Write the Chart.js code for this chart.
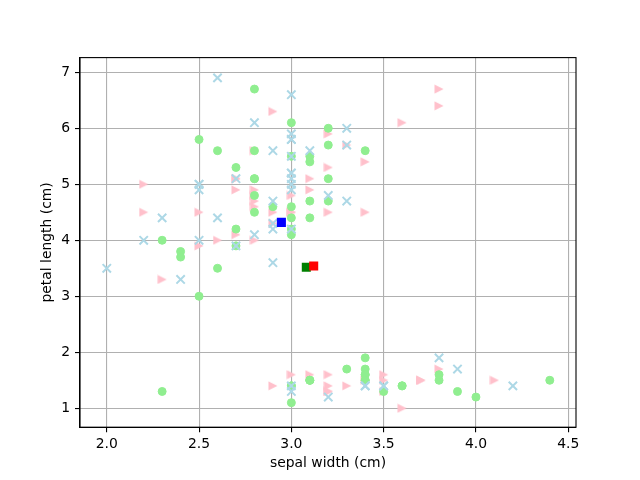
<!DOCTYPE html>
<html>
<head>
<meta charset="utf-8">
<title>Iris clusters — sepal width vs petal length</title>
<script src="https://cdn.jsdelivr.net/npm/chart.js@4.4.1/dist/chart.umd.min.js"></script>
<style>
  html, body { margin: 0; padding: 0; background: #fff; }
  canvas { display: block; }
</style>
</head>
<body>
<canvas id="chart" width="640" height="480"></canvas>
<script>
"use strict";

// ── Data (sepal width, petal length) per cluster ─────────────────────────
const blueWidth = [3.5, 3.9, 3.4, 3.0, 3.5, 3.4, 4.2, 3.2, 3.0, 3.8,
  3.3, 2.4, 2.0, 2.2, 2.9, 2.9, 3.2, 2.5, 2.9, 3.0, 2.7, 2.3, 2.5, 2.6, 3.0, 2.9, 2.8,
  3.3, 2.7, 3.0, 2.9, 3.0, 3.0, 2.5, 3.0, 2.6, 3.3, 3.0, 3.0, 2.8, 3.1, 3.0, 2.5, 3.0, 3.0];
const blueLength = [1.4, 1.7, 1.4, 1.4, 1.4, 1.4, 1.4, 1.2, 1.3, 1.9,
  4.7, 3.3, 3.5, 4.0, 4.7, 3.6, 4.8, 4.9, 4.3, 5.0, 3.9, 4.4, 4.0, 4.4, 4.2, 4.2, 4.1,
  6.0, 5.1, 5.9, 5.6, 5.8, 6.6, 5.0, 5.5, 6.9, 5.7, 4.9, 5.8, 6.1, 5.6, 5.2, 5.0, 5.2, 5.1];

const greenWidth = [3.0, 3.1, 3.6, 3.4, 3.1, 3.4, 3.0, 4.0, 4.4, 3.9, 3.8, 3.4, 3.3, 3.4, 3.4, 3.1, 3.6, 3.4, 3.5, 2.3, 3.0, 3.8,
  3.2, 2.3, 2.8, 2.9, 2.7, 3.0, 3.1, 3.0, 2.8, 2.6, 2.4, 2.4, 3.1, 3.0, 3.0, 2.7, 2.5,
  2.5, 3.2, 2.7, 3.0, 2.8, 3.2, 2.8, 3.2, 2.8, 2.8, 2.6, 3.0, 3.4, 3.1, 3.1];
const greenLength = [1.4, 1.5, 1.4, 1.5, 1.5, 1.6, 1.1, 1.2, 1.5, 1.3, 1.5, 1.7, 1.7, 1.9, 1.6, 1.5, 1.4, 1.5, 1.3, 1.3, 1.4, 1.6,
  4.7, 4.0, 4.5, 4.6, 3.9, 4.2, 4.4, 4.4, 4.8, 3.5, 3.8, 3.7, 4.7, 4.1, 4.6, 4.2, 3.0,
  5.8, 5.1, 5.3, 5.5, 5.1, 5.7, 6.7, 6.0, 5.6, 5.1, 5.6, 6.1, 5.6, 5.5, 5.4];

const pinkWidth = [3.2, 2.9, 3.7, 3.8, 3.7, 3.6, 3.0, 3.5, 3.2, 3.1, 3.4, 4.1, 3.5, 3.2, 3.5, 3.2, 3.7, 3.3,
  3.2, 3.1, 2.8, 3.0, 2.7, 2.2, 2.5, 2.8, 2.8, 2.9, 2.7, 3.0, 3.4, 2.6, 2.3, 2.9,
  2.5, 2.9, 3.6, 3.2, 3.8, 2.2, 2.8, 2.7, 2.8, 3.8, 2.8, 3.0, 3.1, 2.7, 3.2, 3.3, 3.4];
const pinkLength = [1.3, 1.4, 1.5, 1.7, 1.5, 1.0, 1.6, 1.5, 1.6, 1.6, 1.5, 1.5, 1.3, 1.3, 1.6, 1.4, 1.5, 1.4,
  4.5, 4.9, 4.6, 4.5, 4.1, 4.5, 3.9, 4.0, 4.7, 4.5, 5.1, 4.5, 4.5, 4.0, 3.3, 4.3,
  4.5, 6.3, 6.1, 5.3, 6.7, 5.0, 4.9, 4.9, 4.8, 6.4, 5.6, 4.8, 5.1, 5.1, 5.9, 5.7, 5.4];

// centroids: blue, green, red
const centroidWidth = [2.946, 3.081, 3.121];
const centroidLength = [4.32, 3.52, 3.54];

const xTicks = [2.0, 2.5, 3.0, 3.5, 4.0, 4.5];
const yTicks = [1, 2, 3, 4, 5, 6, 7];

function points(xs, ys) {
  return xs.map((x, i) => ({ x, y: ys[i] }));
}

// right-pointing triangle like matplotlib's ">" marker
function triangleRight(size, color) {
  const c = document.createElement("canvas");
  c.width = size;
  c.height = size;
  const g = c.getContext("2d");
  g.fillStyle = color;
  g.beginPath();
  g.moveTo(0.5, 0.5);
  g.lineTo(size - 0.5, size / 2);
  g.lineTo(0.5, size - 0.5);
  g.closePath();
  g.fill();
  return c;
}

const FONT = "'DejaVu Sans', sans-serif";
Chart.defaults.font.family = FONT;
Chart.defaults.font.size = 13.9;
Chart.defaults.color = "#000";

// top/right spines
const frame = {
  id: "frame",
  afterDraw(chart) {
    const { ctx, chartArea: a } = chart;
    ctx.save();
    ctx.strokeStyle = "#000";
    ctx.lineWidth = 1.1;
    ctx.strokeRect(a.left, a.top, a.right - a.left, a.bottom - a.top);
    ctx.restore();
  },
};

new Chart(document.getElementById("chart"), {
  type: "scatter",
  data: {
    datasets: [
      {
        label: "centroids",
        data: points(centroidWidth, centroidLength),
        pointStyle: "rect",
        pointRadius: 6.4,
        borderWidth: 0,
        backgroundColor: ["#0000ff", "#008000", "#ff0000"],
        order: 0,
      },
      {
        label: "cluster 0",
        data: points(blueWidth, blueLength),
        pointStyle: "crossRot",
        pointRadius: 5.9,
        borderWidth: 2,
        borderColor: "#add8e6",
        backgroundColor: "#add8e6",
        order: 1,
      },
      {
        label: "cluster 1",
        data: points(greenWidth, greenLength),
        pointStyle: "circle",
        pointRadius: 4,
        borderWidth: 1,
        borderColor: "#90ee90",
        backgroundColor: "#90ee90",
        order: 2,
      },
      {
        label: "cluster 2",
        data: points(pinkWidth, pinkLength),
        pointStyle: triangleRight(10, "#ffc0cb"),
        pointRadius: 5,
        backgroundColor: "#ffc0cb",
        order: 3,
      },
    ],
  },
  options: {
    responsive: false,
    animation: false,
    events: [],
    layout: { padding: { left: 0, top: 57.6, right: 64, bottom: 0 } },
    plugins: { legend: { display: false }, tooltip: { enabled: false } },
    scales: {
      x: {
        type: "linear",
        min: 1.855,
        max: 4.542,
        afterFit: s => { s.height = 52.8; },
        afterBuildTicks: s => { s.ticks = xTicks.map(v => ({ value: v })); },
        grid: { color: "#b0b0b0", lineWidth: 1.1, tickColor: "#000", tickLength: 5, tickWidth: 1.1 },
        border: { color: "#000", width: 1.1 },
        ticks: { padding: 4, maxRotation: 0, callback: v => v.toFixed(1) },
        title: { display: true, text: "sepal width (cm)", padding: { top: 0, bottom: 8 } },
      },
      y: {
        type: "linear",
        min: 0.662,
        max: 7.262,
        afterFit: s => { s.width = 80; },
        afterBuildTicks: s => { s.ticks = yTicks.map(v => ({ value: v })); },
        grid: { color: "#b0b0b0", lineWidth: 1.1, tickColor: "#000", tickLength: 5, tickWidth: 1.1 },
        border: { color: "#000", width: 1.1 },
        ticks: { padding: 5, callback: v => String(v) },
        title: { display: true, text: "petal length (cm)", padding: { top: 39.5, bottom: 0 } },
      },
    },
  },
  plugins: [frame],
});
</script>
</body>
</html>
